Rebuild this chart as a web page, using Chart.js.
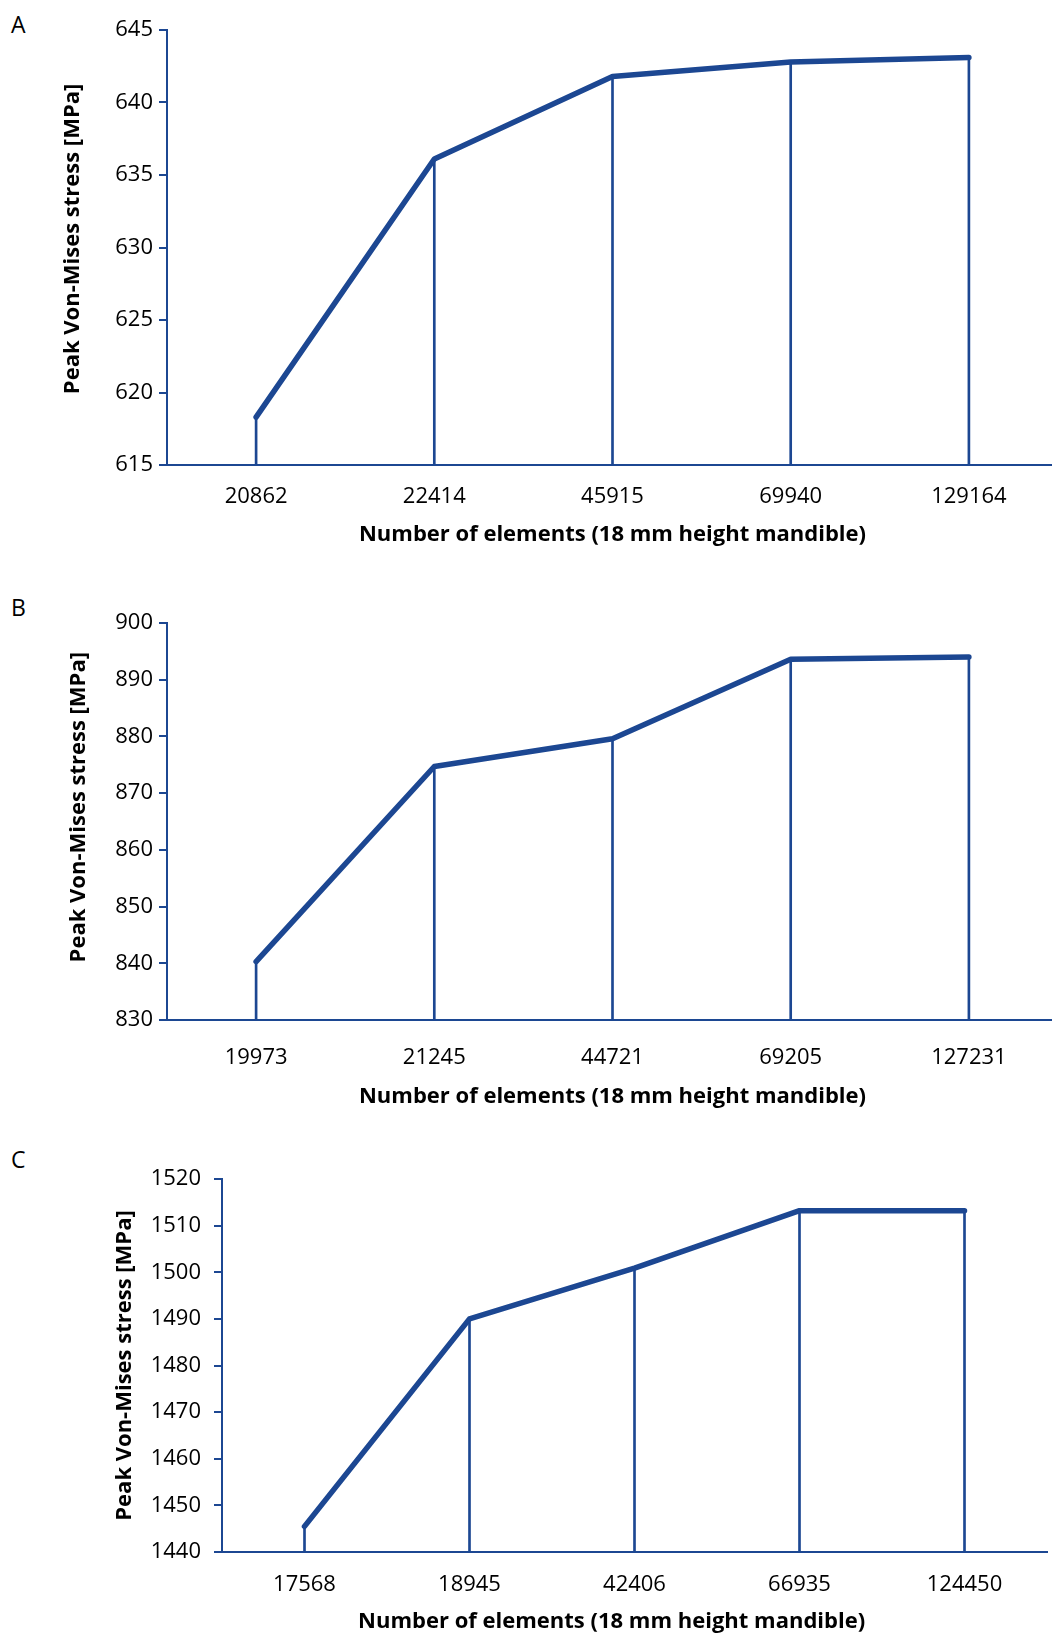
<!DOCTYPE html>
<html>
<head>
<meta charset="utf-8">
<script src="https://cdn.jsdelivr.net/npm/chart.js@4.4.1/dist/chart.umd.min.js"></script>
<style>
  html, body { margin: 0; padding: 0; background: #fff; overflow: hidden; width: 1052px; height: 1635px; }
  .panel { position: absolute; left: 0; }
  .letter { position: absolute; left: 11px; font: 23px "Open Sans", sans-serif; line-height: 23px; color: #000; }
</style>
</head>
<body>
<div class="letter" style="top:13px">A</div>
<div class="letter" style="top:596px">B</div>
<div class="letter" style="top:1148px">C</div>
<canvas id="chartA" class="panel" style="top:0px" width="1058" height="560"></canvas>
<canvas id="chartB" class="panel" style="top:570px" width="1058" height="550"></canvas>
<canvas id="chartC" class="panel" style="top:1125px" width="1052" height="510"></canvas>
<script>
// Mesh convergence data
const aLabels = ['20862', '22414', '45915', '69940', '129164'];
const aValues = [618.3, 636.1, 641.8, 642.8, 643.1];

const bLabels = ['19973', '21245', '44721', '69205', '127231'];
const bValues = [840.3, 874.7, 879.6, 893.6, 894.0];

const cLabels = ['17568', '18945', '42406', '66935', '124450'];
const cValues = [1445.5, 1490.0, 1500.9, 1513.2, 1513.2];

const blue = '#1c4792';
const xTitle = 'Number of elements (18 mm height mandible)';
const yTitle = 'Peak Von-Mises stress [MPa]';
const pad = n => '\u00a0'.repeat(n);  // nudges titles off-centre like the original

function makeChart(id, labels, values, yMin, yMax, step, lay) {
  const ctx = document.getElementById(id).getContext('2d');
  return new Chart(ctx, {
    data: {
      labels: labels,
      datasets: [{
        type: 'line',
        data: values,
        borderColor: blue,
        borderWidth: 5.5,
        borderCapStyle: 'round',
        borderJoinStyle: 'round',
        pointRadius: 0,
        tension: 0,
        order: 0
      }, {
        // drop lines from each point to the x axis
        type: 'bar',
        data: values,
        backgroundColor: blue,
        barThickness: 2,
        order: 1
      }]
    },
    options: {
      responsive: false,
      animation: false,
      layout: { padding: { top: lay.top, left: 0, right: lay.right, bottom: 0 } },
      plugins: { legend: { display: false }, tooltip: { enabled: false } },
      scales: {
        x: {
          offset: true,
          grid: { display: false },
          border: { display: true, color: blue, width: 2 },
          ticks: { color: '#000', padding: lay.tickPad, font: { family: 'Open Sans', size: 22 } },
          title: {
            display: true, text: xTitle + pad(lay.xShift), color: '#000',
            padding: { top: 0, bottom: lay.titlePad },
            font: { family: 'Open Sans', size: 22, weight: 'bold' }
          },
          afterFit: s => { s.height = lay.xHeight; }
        },
        y: {
          min: yMin,
          max: yMax,
          grid: { drawOnChartArea: false, drawTicks: true, tickLength: 8, color: blue, lineWidth: 2 },
          border: { display: true, color: blue, width: 2 },
          ticks: {
            stepSize: step, color: '#000', padding: lay.yPad,
            font: { family: 'Open Sans', size: 22 },
            callback: v => String(v)
          },
          title: {
            display: true, text: pad(lay.yShift) + yTitle, color: '#000',
            padding: { top: lay.yTitleX - 13.2, bottom: 0 },
            font: { family: 'Open Sans', size: 22, weight: 'bold' }
          },
          afterFit: s => { s.width = lay.yWidth; }
        }
      }
    }
  });
}

makeChart('chartA', aLabels, aValues, 615, 645, 5,
  { top: 30, right: 0, xHeight: 95, tickPad: 11, titlePad: 12, yPad: 6, yTitleX: 73, yWidth: 167, xShift: 0, yShift: 3 });
makeChart('chartB', bLabels, bValues, 830, 900, 10,
  { top: 53, right: 0, xHeight: 100, tickPad: 17, titlePad: 10, yPad: 6, yTitleX: 79, yWidth: 167, xShift: 0, yShift: 5 });
makeChart('chartC', cLabels, cValues, 1440, 1520, 10,
  { top: 54, right: 5, xHeight: 83, tickPad: 12, titlePad: 0, yPad: 13, yTitleX: 125, yWidth: 222, xShift: 8, yShift: 0 });
</script>
</body>
</html>
